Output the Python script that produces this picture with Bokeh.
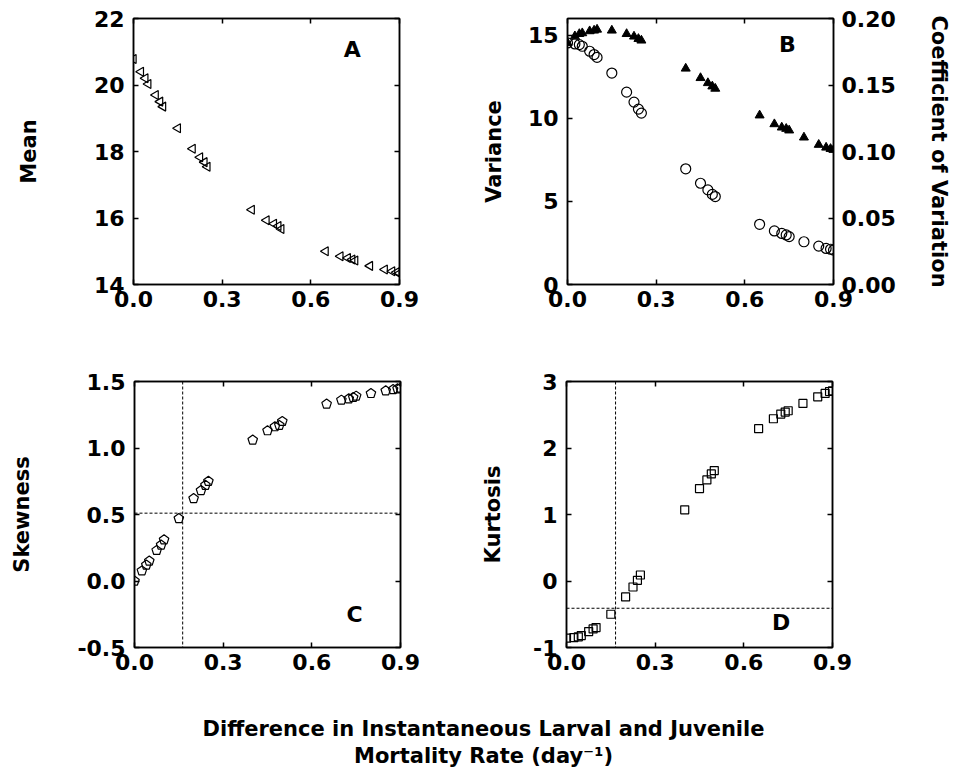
from bokeh.plotting import figure
from bokeh.models import Range1d, LinearAxis, FixedTicker, PrintfTickFormatter, CustomJSTickFormatter, Span, Label
from bokeh.layouts import column, row
from bokeh.embed import file_html
from bokeh.resources import INLINE
from bokeh.core.properties import value

# ---------------- data ----------------
mortality_diff = [0.0, 0.025, 0.04, 0.05, 0.075, 0.09, 0.10, 0.15, 0.20, 0.225, 0.24, 0.25,
                  0.40, 0.45, 0.475, 0.49, 0.50, 0.65, 0.70, 0.725, 0.74, 0.75, 0.80,
                  0.85, 0.875, 0.89, 0.90]
mean_size = [20.78, 20.4, 20.2, 20.03, 19.7, 19.5, 19.35, 18.7, 18.08, 17.83, 17.68, 17.54,
             16.25, 15.93, 15.83, 15.76, 15.67, 15.0, 14.85, 14.8, 14.75, 14.72, 14.56,
             14.45, 14.4, 14.37, 14.34]
variance = [14.53, 14.47, 14.43, 14.33, 14.03, 13.83, 13.66, 12.72, 11.57, 10.97, 10.55, 10.31,
            6.96, 6.09, 5.69, 5.42, 5.29, 3.62, 3.22, 3.07, 2.98, 2.88, 2.57,
            2.31, 2.17, 2.12, 2.07]
coef_var = [0.1817, 0.1867, 0.1884, 0.189, 0.1905, 0.191, 0.1917, 0.191, 0.1884, 0.1865, 0.1847, 0.1835,
            0.1624, 0.1553, 0.1515, 0.149, 0.1473, 0.1272, 0.1206, 0.1181, 0.1171, 0.1159, 0.1106,
            0.1051, 0.103, 0.102, 0.1013]
skewness = [0.0, 0.076, 0.12, 0.15, 0.23, 0.27, 0.31, 0.47, 0.62, 0.68, 0.72, 0.75,
            1.06, 1.13, 1.16, 1.17, 1.20, 1.33, 1.36, 1.37, 1.38, 1.39, 1.41,
            1.43, 1.44, 1.445, 1.45]
kurtosis = [-0.86, -0.85, -0.84, -0.82, -0.76, -0.72, -0.70, -0.50, -0.24, -0.09, 0.01, 0.09,
            1.07, 1.39, 1.52, 1.61, 1.66, 2.29, 2.44, 2.51, 2.54, 2.56, 2.67,
            2.77, 2.82, 2.85, 2.86]

x_ticks = [0.0, 0.3, 0.6, 0.9]
mean_ticks = [14, 16, 18, 20, 22]
var_ticks = [0, 5, 10, 15]
cv_ticks = [0.0, 0.05, 0.10, 0.15, 0.20]
skew_ticks = [-0.5, 0.0, 0.5, 1.0, 1.5]
kurt_ticks = [-1, 0, 1, 2, 3]

skew_cross = [0.163, 0.51]     # dashed reference lines (x, y) in panel C
kurt_cross = [0.166, -0.41]    # dashed reference lines (x, y) in panel D

x_title = ["Difference in Instantaneous Larval and Juvenile", "Mortality Rate (day\u207b\u00b9)"]

FONT = "DejaVu Sans"
TICK_SIZE = "22px"
LABEL_SIZE = "21px"


def style_axis(ax, ticks, fmt, labels=True):
    ax.ticker = FixedTicker(ticks=ticks)
    if labels:
        ax.formatter = PrintfTickFormatter(format=fmt)
    else:
        ax.formatter = CustomJSTickFormatter(code="return '';")
    ax.major_tick_in = 5
    ax.major_tick_out = 0
    ax.minor_tick_line_color = None
    ax.axis_line_width = 1.5
    ax.axis_line_color = "black"
    ax.major_tick_line_width = 1.5
    ax.major_tick_line_color = "black"
    ax.major_label_text_font = FONT
    ax.major_label_text_font_style = "bold"
    ax.major_label_text_color = "black"
    ax.major_label_text_font_size = TICK_SIZE
    ax.axis_label_text_font = FONT
    ax.axis_label_text_font_style = "bold"
    ax.axis_label_text_font_size = LABEL_SIZE
    ax.axis_label_text_color = "black"


def panel(ylabel, y0, y1, yticks, yfmt, left, right, top, bottom, ystand, ylab_stand, mirror_right=True):
    p = figure(frame_width=266, frame_height=266, x_range=Range1d(0, 0.9), y_range=Range1d(y0, y1),
               output_backend="svg", toolbar_location=None,
               min_border_left=left, min_border_right=right, min_border_top=top, min_border_bottom=bottom)
    p.xgrid.visible = False
    p.ygrid.visible = False
    p.outline_line_color = "black"
    p.outline_line_width = 1.5
    p.background_fill_color = "white"
    p.border_fill_color = "white"
    style_axis(p.xaxis[0], x_ticks, "%.1f")
    p.xaxis[0].major_label_standoff = 6
    style_axis(p.yaxis[0], yticks, yfmt)
    p.yaxis[0].major_label_standoff = ystand
    p.yaxis[0].axis_label = ylabel
    p.yaxis[0].axis_label_standoff = ylab_stand
    top_ax = LinearAxis()
    style_axis(top_ax, x_ticks, "%.1f", labels=False)
    top_ax.major_label_standoff = 0
    p.add_layout(top_ax, "above")
    if mirror_right:
        r_ax = LinearAxis()
        style_axis(r_ax, yticks, yfmt, labels=False)
        r_ax.major_label_standoff = 0
        p.add_layout(r_ax, "right")
    return p


def letter(p, txt, x, y):
    p.add_layout(Label(x=x, y=y, text=txt, text_font=FONT, text_font_style="bold",
                       text_font_size="22px", text_align="center", text_baseline="middle",
                       text_color="black"))


# Panel A
pa = panel("Mean", 14, 22, mean_ticks, "%d", 133, 79, 18, 56, 9, 50)
pa.scatter(mortality_diff, mean_size, marker="triangle", angle=1.5708, size=9,
           line_color="black", line_width=1.2, fill_color=None)
letter(pa, "A", 0.74, 21.06)

# Panel B
pb = panel("Variance", 0, 16, var_ticks, "%d", 87, 125, 18, 56, 9, 19, mirror_right=False)
pb.extra_y_ranges = {"cv": Range1d(0, 0.20)}
cv_ax = LinearAxis(y_range_name="cv")
style_axis(cv_ax, cv_ticks, "%.2f")
cv_ax.major_label_standoff = 8
cv_ax.axis_label = "Coefficient of Variation"
cv_ax.axis_label_standoff = 28
pb.add_layout(cv_ax, "right")
pb.scatter(mortality_diff, variance, marker="circle", size=10,
           line_color="black", line_width=1.2, fill_color=None)
pb.scatter(mortality_diff, coef_var, marker="triangle", size=9, y_range_name="cv",
           line_color="black", fill_color="black")
letter(pb, "B", 0.744, 14.45)

# Panel C
pc = panel("Skewness", -0.5, 1.5, skew_ticks, "%.1f", 134, 78, 41, 53, 9, 40)
pc.add_layout(Span(location=skew_cross[0], dimension="height", line_dash="3 2", line_width=1, line_color="black"))
pc.add_layout(Span(location=skew_cross[1], dimension="width", line_dash="3 2", line_width=1, line_color="black"))
try:
    pc.ngon(x=mortality_diff, y=skewness, radius=5, radius_units="screen", n=5, angle=0,
            line_color="black", line_width=1.2, fill_color=None)
except Exception:
    pc.scatter(mortality_diff, skewness, marker="hex", size=10,
               line_color="black", line_width=1.2, fill_color=None)
letter(pc, "C", 0.745, -0.25)

# Panel D
pd_ = panel("Kurtosis", -1, 3, kurt_ticks, "%d", 87, 125, 41, 53, 9, 25)
pd_.add_layout(Span(location=kurt_cross[0], dimension="height", line_dash="3 2", line_width=1, line_color="black"))
pd_.add_layout(Span(location=kurt_cross[1], dimension="width", line_dash="3 2", line_width=1, line_color="black"))
pd_.scatter(mortality_diff, kurtosis, marker="square", size=8,
            line_color="black", line_width=1.2, fill_color=None)
letter(pd_, "D", 0.726, -0.62)

# shared x-axis title
pt = figure(width=956, height=70, x_range=Range1d(0, 956), y_range=Range1d(0, 70),
            output_backend="svg", toolbar_location=None, min_border=0,
            x_axis_location=None, y_axis_location=None)
pt.xgrid.visible = False
pt.ygrid.visible = False
pt.outline_line_color = None
pt.text(x=[483, 483], y=[42, 15], text=x_title, text_align="center", text_baseline="alphabetic",
        text_font=value(FONT), text_font_style="bold", text_font_size="21px", text_color="black")

layout = column(row(pa, pb), row(pc, pd_), pt)

with open("out.html", "w") as f:
    f.write(file_html(layout, INLINE))
